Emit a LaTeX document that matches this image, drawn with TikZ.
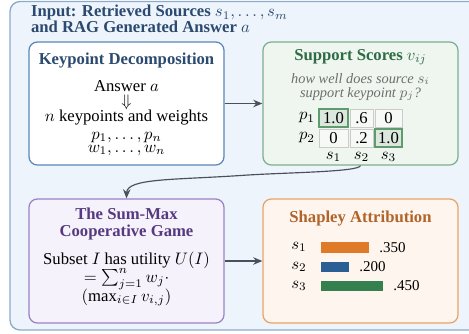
\documentclass[tikz,border=0pt]{standalone}
\usepackage{fontspec}
\setmainfont{Liberation Serif}
\usetikzlibrary{arrows.meta}
\definecolor{outerfill}{HTML}{EEF4FC}
\definecolor{outerdraw}{HTML}{8DAACB}
\definecolor{titleblue}{HTML}{2B4A6F}
\definecolor{kpdraw}{HTML}{5B87B9}
\definecolor{ssfill}{HTML}{EEF6EF}
\definecolor{ssdraw}{HTML}{7DB08C}
\definecolor{sstitle}{HTML}{2F6B47}
\definecolor{smfill}{HTML}{F5F2FB}
\definecolor{smdraw}{HTML}{9B82C6}
\definecolor{smtitle}{HTML}{56397F}
\definecolor{shfill}{HTML}{FEF5EE}
\definecolor{shdraw}{HTML}{E9A464}
\definecolor{shtitle}{HTML}{B0642A}
\definecolor{arrowgray}{HTML}{4A505C}
\definecolor{cellhi}{HTML}{DCE7DD}
\definecolor{cellhidraw}{HTML}{5E9C6E}
\definecolor{cellfill}{HTML}{F7F9F7}
\definecolor{celldraw}{HTML}{C9CCC9}
\definecolor{qgray}{HTML}{6E6E6E}
\definecolor{barorange}{HTML}{DF7A28}
\definecolor{barblue}{HTML}{2A5E95}
\definecolor{bargreen}{HTML}{34804F}
\tikzset{
  panel/.style={rectangle, rounded corners=5pt, line width=0.75pt, minimum width=117pt, inner sep=0pt},
  txt/.style={inner sep=0pt, anchor=base},
  ttl/.style={inner sep=0pt, anchor=base, font=\bfseries},
  conn/.style={draw=arrowgray, line width=0.7pt, -{Stealth[length=5.5pt,width=4.5pt]}},
  cell/.style={rectangle, inner sep=0pt, minimum height=10.8pt, draw=celldraw, fill=cellfill, line width=0.5pt},
  hcell/.style={cell, draw=cellhidraw, fill=cellhi, line width=0.7pt},
  qtxt/.style={inner sep=0pt, anchor=base, text=qgray, font=\fontsize{8.6}{10}\selectfont\itshape},
  val/.style={inner sep=0pt, anchor=west, font=\small},
}
\begin{document}
\begin{tikzpicture}[x=0.6pt,y=-0.6pt]
\useasboundingbox (0,0) rectangle (469,333);
\clip (0,0) rectangle (469,333);
\draw[draw=outerdraw, fill=outerfill, line width=0.8pt, rounded corners=6pt] (10,1.5) rectangle (490,330);
\node[ttl, anchor=base west, text=titleblue] (in1) at (30.7,16.7) {Input: Retrieved Sources $s_1,\dots,s_m$};
\node[ttl, anchor=base west, text=titleblue] (in2) at (30.7,32.3) {and RAG Generated Answer $a$};

% panels
\node[panel, draw=kpdraw, fill=white, minimum height=73.8pt] (kp) at (126.5,103.5) {};
\node[panel, draw=ssdraw, fill=ssfill, minimum height=73.8pt] (ss) at (360.5,103.5) {};
\node[panel, draw=smdraw, fill=smfill, minimum height=74.4pt] (sm) at (126.5,261) {};
\node[panel, draw=shdraw, fill=shfill, minimum height=74.4pt] (sh) at (360.5,261) {};

% keypoint
\node[ttl, text=titleblue] (kpt) at (126.5,64) {Keypoint Decomposition};
\node[txt] (kpa) at (126.5,91) {Answer $a$};
\node[inner sep=0pt] (kpd) at (126.5,102) {$\Downarrow$};
\node[txt] (kpn) at (126.5,121) {$n$ keypoints and weights};
\node[txt] (kpp) at (126.5,139) {$p_1,\dots,p_n$};
\node[txt] (kpw) at (126.5,152) {$w_1,\dots,w_n$};

% support
\node[ttl, text=sstitle] (sst) at (360.5,60) {Support Scores $v_{ij}$};
\node[qtxt] (ssq1) at (360.5,83) {how well does source $s_i$};
\node[qtxt] (ssq2) at (360.5,97) {support keypoint $p_j$?};
\node[hcell, minimum width=17.4pt] (c11) at (333.5,118) {1.0};
\node[cell, minimum width=13.8pt] (c12) at (361.5,118) {.6};
\node[cell, minimum width=16.2pt] (c13) at (388.5,118) {0};
\node[cell, minimum width=17.4pt] (c21) at (333.5,138) {0};
\node[cell, minimum width=13.8pt] (c22) at (361.5,138) {.2};
\node[hcell, minimum width=16.2pt] (c23) at (388.5,138) {1.0};
\node[inner sep=0pt] (p1) at (307,118) {$p_1$};
\node[inner sep=0pt] (p2) at (307,138) {$p_2$};
\node[inner sep=0pt] (cs1) at (333.5,157) {$s_1$};
\node[inner sep=0pt] (cs2) at (361.5,157) {$s_2$};
\node[inner sep=0pt] (cs3) at (388.5,157) {$s_3$};

% sum-max
\node[ttl, text=smtitle] (smt1) at (126.5,219) {The Sum-Max};
\node[ttl, text=smtitle] (smt2) at (126.5,236) {Cooperative Game};
\node[txt] (smb1) at (126.5,264) {Subset $I$ has utility $U(I)$};
\node[txt] (smb2) at (126.5,282) {$=\sum_{j=1}^{n} w_j\cdot$};
\node[txt] (smb3) at (126.5,301) {$(\max_{i\in I} v_{i,j})$};

% shapley
\node[ttl, text=shtitle] (sht) at (360.5,222) {Shapley Attribution};
\node[inner sep=0pt] (ls1) at (299,247) {$s_1$};
\node[inner sep=0pt] (ls2) at (299,267) {$s_2$};
\node[inner sep=0pt] (ls3) at (299,286) {$s_3$};
\fill[barorange] (321,242) rectangle (369,253);
\fill[barblue] (321,262) rectangle (349,272);
\fill[bargreen] (321,280.5) rectangle (383,291);
\node[val] (v1) at (379,248) {.350};
\node[val] (v2) at (359,267) {.200};
\node[val] (v3) at (393,286) {.450};

% connectors
\coordinate (bend) at (245,175.2);
\draw[conn] (kp.east) -- (ss.west);
\draw[conn] (ss.south) .. controls (359,172) and (285,172.5) .. (bend) .. controls (175,180) and (127,178) .. (sm.north);
\draw[conn] (sm.east) -- (sh.west);
\end{tikzpicture}
\end{document}
